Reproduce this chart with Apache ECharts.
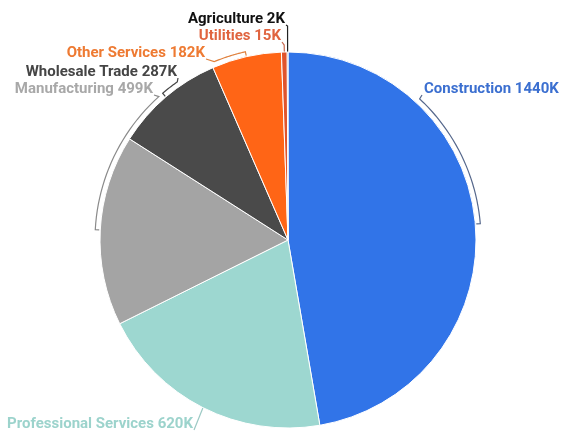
<!DOCTYPE html>
<html>
<head>
<meta charset="utf-8">
<script src="https://cdn.jsdelivr.net/npm/echarts@6/dist/echarts.min.js"></script>
<style>
html,body{margin:0;padding:0;background:#fff;}
#chart{width:562px;height:431px;}
</style>
</head>
<body>
<div id="chart"></div>
<script>
// ---- data ----
const categories = ['Construction', 'Professional Services', 'Manufacturing', 'Wholesale Trade', 'Other Services', 'Utilities', 'Agriculture'];
const values = [1440, 620, 499, 287, 182, 15, 2];
const valueLabels = ['1440K', '620K', '499K', '287K', '182K', '15K', '2K'];

// ---- styles / layout ----
const sliceColors = ['#3174e8', '#9dd7d0', '#a4a4a4', '#4a4a4a', '#ff6516', '#e0542c', '#111111'];
const labelColors = ['#3b6fd0', '#9cd3cc', '#a8a8a8', '#454545', '#ee7a32', '#e0643f', '#111111'];
const lineColors = ['#56688c', '#9cc9c4', '#8a8a8a', '#454545', '#e0823f', '#c96a50', '#222222'];
const CX = 288, CY = 240, R = 188;
const labelPos = [[424, 89, 'left'], [193, 424, 'right'], [153, 89, 'right'], [177, 72, 'right'], [205, 53, 'right'], [281, 36, 'right'], [285, 19, 'right']];
const arcTo = [43, null, 318, 325, 337.5, null, null];
const straightExt = [0, 0, 0, 0, 0, 7, 26];

const total = values.reduce((a, b) => a + b, 0);
const midAngles = [];
let acc = 0;
values.forEach(v => { midAngles.push((acc + v / 2) / total * 360); acc += v; });

function polar(deg, r) {
  const a = deg * Math.PI / 180;
  return [CX + r * Math.sin(a), CY - r * Math.cos(a)];
}

const chart = echarts.init(document.getElementById('chart'));
chart.setOption({
  animation: false,
  series: [{
    type: 'pie',
    center: [CX, CY],
    radius: R,
    startAngle: 90,
    clockwise: true,
    data: categories.map((c, i) => ({
      name: c,
      value: values[i],
      itemStyle: { color: sliceColors[i] },
      label: { color: labelColors[i] },
      labelLine: { lineStyle: { color: lineColors[i] } }
    })),
    itemStyle: { borderColor: '#fff', borderWidth: 1 },
    label: {
      show: true,
      position: 'outside',
      overflow: 'none',
      fontFamily: 'Roboto',
      fontSize: 15,
      fontWeight: 'bold',
      formatter: p => p.name + ' ' + valueLabels[p.dataIndex]
    },
    labelLine: { show: true, length: 10, length2: 10, lineStyle: { width: 1.2 } },
    labelLayout: function (params) {
      const i = params.dataIndex;
      const [lx, ly, al] = labelPos[i];
      const mid = midAngles[i];
      const anchor = [al === 'right' ? lx + 1 : lx - 2, ly + 6];
      let pts = [];
      if (arcTo[i] != null) {
        const rr = R + 5;
        pts.push(polar(mid, R + 1));
        const steps = 24;
        for (let k = 0; k <= steps; k++) {
          pts.push(polar(mid + (arcTo[i] - mid) * k / steps, rr));
        }
        pts.push(anchor);
      } else {
        pts.push(polar(mid, R));
        if (straightExt[i] > 0) pts.push(polar(mid, R + straightExt[i]));
        pts.push(anchor);
      }
      return { x: lx, y: ly, align: al, verticalAlign: 'middle', width: 300, labelLinePoints: pts };
    }
  }]
});
</script>
</body>
</html>
